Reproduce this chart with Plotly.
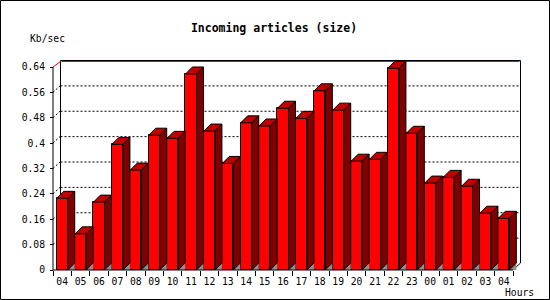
import plotly.graph_objects as go

# ---------------- data ----------------
hours = ["04", "05", "06", "07", "08", "09", "10", "11", "12", "13", "14", "15",
         "16", "17", "18", "19", "20", "21", "22", "23", "00", "01", "02", "03", "04"]
values = [0.226, 0.114, 0.214, 0.396, 0.315, 0.425, 0.415, 0.618, 0.438, 0.336,
          0.464, 0.454, 0.510, 0.478, 0.565, 0.504, 0.343, 0.349, 0.636, 0.431,
          0.274, 0.292, 0.264, 0.179, 0.163]
y_ticks = [0, 0.08, 0.16, 0.24, 0.32, 0.40, 0.48, 0.56, 0.64]
y_tick_text = ["0", "0.08", "0.16", "0.24", "0.32", "0.4", "0.48", "0.56", "0.64"]
y_max = 0.64
title_text = "Incoming articles (size)"
y_title = "Kb/sec"
x_title = "Hours"

# ---------------- layout geometry (pixels) ----------------
W, H = 550, 300
FRONT_L, FRONT_R = 53, 513
BASE_Y, TOP_Y = 270, 67
DEPTH_X, DEPTH_Y = 7, 7
PAD = 3
n = len(hours)
px_x = (FRONT_R - FRONT_L) / n
px_y = (BASE_Y - TOP_Y) / y_max
dx = DEPTH_X / px_x
dy = DEPTH_Y / px_y
bw = 0.6

l = FRONT_L - PAD
r = W - (FRONT_R + DEPTH_X + PAD)
t = TOP_Y - DEPTH_Y - PAD
b = H - (BASE_Y + PAD)
pw = W - l - r
ph = H - t - b

x_rng = [-0.5 - PAD / px_x, n - 0.5 + dx + PAD / px_x]
y_rng = [-PAD / px_y, y_max + dy + PAD / px_y]

FONT = "DejaVu Sans Mono"
RED, TOPC, SIDEC, SHADOW = "#FF0000", "#C00000", "#800000", "#909090"

xs = list(range(n))

# 3D faces
top_x, top_y, side_x, side_y, sh_x, sh_y = [], [], [], [], [], []
for i, v in zip(xs, values):
    xl, xr = i - bw / 2, i + bw / 2
    top_x += [xl, xr, xr + dx, xl + dx, xl, None]
    top_y += [v, v, v + dy, v + dy, v, None]
    side_x += [xr, xr + dx, xr + dx, xr, xr, None]
    side_y += [0, dy, v + dy, v, 0, None]
    sh_x += [xr, xr + dx, xr + dx, xr, None]
    sh_y += [0, dy, 0, 0, None]

fig = go.Figure()
fig.add_trace(go.Bar(x=xs, y=values, width=bw, marker=dict(color=RED, line=dict(color="black", width=1)),
                     hoverinfo="skip"))
fig.add_trace(go.Scatter(x=sh_x, y=sh_y, mode="lines", fill="toself", fillcolor=SHADOW,
                         line=dict(width=0, color=SHADOW), hoverinfo="skip"))
fig.add_trace(go.Scatter(x=side_x, y=side_y, mode="lines", fill="toself", fillcolor=SIDEC,
                         line=dict(width=1, color="black"), hoverinfo="skip"))
fig.add_trace(go.Scatter(x=top_x, y=top_y, mode="lines", fill="toself", fillcolor=TOPC,
                         line=dict(width=1, color="black"), hoverinfo="skip"))

shapes = []
half_x, half_y = 0.5 / px_x, 0.5 / px_y
bx0, bx1 = -0.5 + dx + half_x, n - 0.5 + dx + half_x
top_line = y_max + dy - half_y
red_y = y_max + dy - 3 * half_y
# grid lines on back wall + connecting diagonals
for v in y_ticks[1:-1]:
    shapes.append(dict(type="line", xref="x", yref="y", x0=bx0, x1=bx1, y0=v + dy - half_y, y1=v + dy - half_y,
                       line=dict(color="black", width=1, dash="2px,2px"), layer="below"))
    shapes.append(dict(type="line", xref="x", yref="y", x0=-0.5, x1=bx0, y0=v, y1=v + dy,
                       line=dict(color="black", width=1, dash="2px,2px"), layer="below"))
# back wall frame
shapes.append(dict(type="line", xref="x", yref="y", x0=bx0, x1=bx0, y0=dy, y1=top_line,
                   line=dict(color="black", width=1), layer="below"))
shapes.append(dict(type="line", xref="x", yref="y", x0=bx1, x1=bx1, y0=dy, y1=top_line,
                   line=dict(color="black", width=1), layer="below"))
shapes.append(dict(type="line", xref="x", yref="y", x0=bx0, x1=bx1, y0=top_line, y1=top_line,
                   line=dict(color="black", width=1), layer="below"))
shapes.append(dict(type="line", xref="x", yref="y", x0=bx0 + 2 * half_x, x1=bx1 - 2 * half_x, y0=red_y, y1=red_y,
                   line=dict(color=RED, width=1), layer="below"))
shapes.append(dict(type="line", xref="x", yref="y", x0=-0.5, x1=bx0, y0=y_max, y1=red_y,
                   line=dict(color=RED, width=1), layer="below"))
# floor right diagonal
shapes.append(dict(type="line", xref="x", yref="y", x0=n - 0.5, x1=bx1, y0=0, y1=dy,
                   line=dict(color="black", width=1), layer="below"))
# front axes
shapes.append(dict(type="line", xref="x", yref="y", x0=-0.5, x1=-0.5, y0=0, y1=y_max,
                   line=dict(color="black", width=1), layer="above"))
shapes.append(dict(type="line", xref="x", yref="y", x0=-0.5, x1=n - 0.5, y0=0, y1=0,
                   line=dict(color="black", width=1), layer="above"))
# image border
shapes.append(dict(type="rect", xref="paper", yref="paper",
                   x0=(0.5 - l) / pw, x1=(W - 0.5 - l) / pw,
                   y0=(H - b - (H - 0.5)) / ph, y1=(H - b - 0.5) / ph,
                   line=dict(color="black", width=1), fillcolor="rgba(0,0,0,0)", layer="above"))


def px2paper(px, py):
    return (px - l) / pw, (H - b - py) / ph


ax_, ay_ = px2paper(47.5, 38.3)
hx_, hy_ = px2paper(519.5, 292)
annotations = [
    dict(text=y_title, x=ax_, y=ay_, xref="paper", yref="paper", showarrow=False,
         xanchor="center", yanchor="middle", font=dict(family=FONT, size=9.7, color="black")),
    dict(text=x_title, x=hx_, y=hy_, xref="paper", yref="paper", showarrow=False,
         xanchor="center", yanchor="middle", font=dict(family=FONT, size=9.7, color="black")),
]

fig.update_layout(
    width=W, height=H, autosize=False,
    margin=dict(l=l, r=r, t=t, b=b, pad=0),
    paper_bgcolor="white", plot_bgcolor="white",
    showlegend=False, bargap=0,
    title=dict(text=title_text, x=274 / W, y=1 - 27.7 / H, xref="container", yref="container",
               xanchor="center", yanchor="middle",
               font=dict(family=FONT, size=11.5, color="black", weight="bold")),
    shapes=shapes, annotations=annotations,
    xaxis=dict(range=x_rng, anchor="free", position=PAD / ph, tickmode="array",
               tickvals=xs, ticktext=hours, ticks="", showgrid=False, zeroline=False,
               showline=False, ticklabelstandoff=4,
               tickfont=dict(family=FONT, size=9.7, color="black"),
               minor=dict(ticks="outside", ticklen=5, tickwidth=1, tickcolor="black",
                          tickmode="linear", tick0=-0.5, dtick=1, showgrid=False)),
    yaxis=dict(range=y_rng, anchor="free", position=PAD / pw, tickmode="array",
               tickvals=y_ticks, ticktext=y_tick_text, ticks="outside", ticklen=3,
               tickwidth=1, tickcolor="black", showgrid=False, zeroline=False,
               showline=False, ticklabelstandoff=3,
               tickfont=dict(family=FONT, size=9.7, color="black")),
)

fig.write_html("out.html")
